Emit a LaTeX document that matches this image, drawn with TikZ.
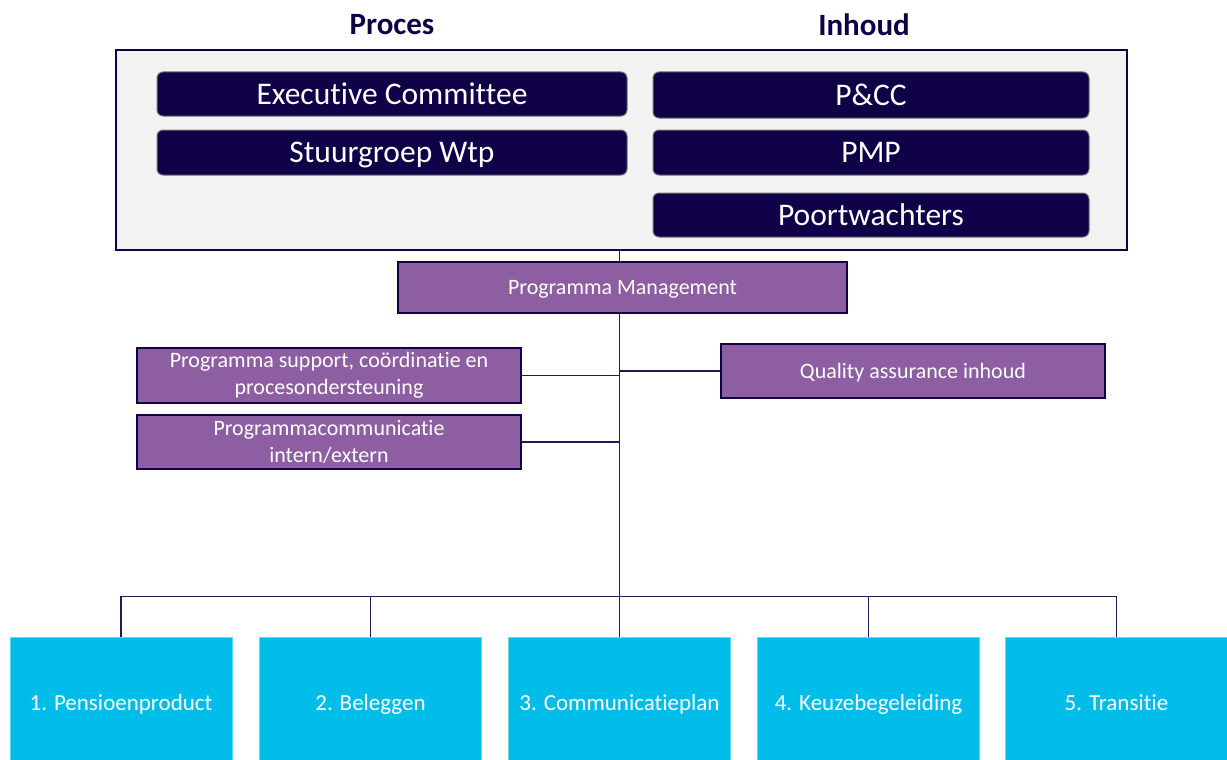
\documentclass[tikz,border=0pt]{standalone}
\usepackage{fontspec}
\setmainfont{Carlito}[Ligatures=NoCommon]
\usetikzlibrary{backgrounds}
\definecolor{navy}{HTML}{0F0048}
\definecolor{paars}{HTML}{8E5EA3}
\definecolor{cyaan}{HTML}{00BCE8}
\definecolor{grijs}{HTML}{F2F2F2}
\tikzset{
  titel/.style={font=\fontsize{31}{36}\selectfont\bfseries,text=navy},
  kader/.style={draw=navy,line width=2pt,fill=grijs,minimum width=1011pt,minimum height=200pt},
  orgaan/.style={draw=black!55,line width=1pt,fill=navy,rounded corners=6pt,text=white,
    font=\fontsize{31.5}{36}\selectfont,inner sep=0pt,text depth=0pt},
  team/.style={draw=navy,line width=2pt,fill=paars,text=white,align=center,
    font=\fontsize{22}{27}\selectfont,inner sep=0pt,minimum width=384pt,minimum height=54pt},
  stroom/.style={draw=cyaan!60!white,line width=0.8pt,fill=cyaan,text=white,
    font=\fontsize{23}{28}\selectfont,inner sep=0pt,minimum width=222pt,minimum height=132pt,
    text depth=0pt},
  lijn/.style={draw=navy!80!gray,line width=1.5pt}
}
\begin{document}
\begin{tikzpicture}[x=1pt,y=-1pt]
    \useasboundingbox (0,0) rectangle (1227,760);
    \node[titel] (proces) at (392,25) {Proces};
    \node[titel] (inhoud) at (864,25) {Inhoud};
    \node[kader] (kader) at (621.5,150) {};
    \node[orgaan,minimum width=470pt,minimum height=44pt] (exco) at (392,94) {Executive Committee};
    \node[orgaan,minimum width=470pt,minimum height=45pt] (stuur) at (392,152.5) {Stuurgroep Wtp};
    \node[orgaan,minimum width=436pt,minimum height=46pt] (pcc) at (871,95) {P\&CC};
    \node[orgaan,minimum width=436pt,minimum height=45pt] (pmp) at (871,152.5) {PMP};
    \node[orgaan,minimum width=436pt,minimum height=44pt] (poort) at (871,215) {Poortwachters};
    \node[team,minimum width=449pt,minimum height=51pt,text depth=0pt] (pm) at (622.5,287.5) {Programma Management};
    \node[team,minimum height=55pt] (support) at (329,375.5) {Programma support, coördinatie en\\procesondersteuning};
    \node[team] (comm) at (329,442) {Programmacommunicatie\\intern/extern};
    \node[team,text depth=0pt] (qa) at (913,371) {Quality assurance inhoud};
    \node[stroom] (s1) at (121,703) {1. Pensioenproduct};
    \node[stroom] (s2) at (370.5,703) {2. Beleggen};
    \node[stroom] (s3) at (619.5,703) {3. Communicatieplan};
    \node[stroom] (s4) at (868.5,703) {4. Keuzebegeleiding};
    \node[stroom] (s5) at (1116.5,703) {5. Transitie};
    \begin{scope}[on background layer]
        \draw[lijn] (kader.south -| s3.north) -- (s3.north);
        \draw[lijn] (support.east) -- (support.east -| s3.north);
        \draw[lijn] (comm.east) -- (comm.east -| s3.north);
        \draw[lijn] (qa.west) -- (qa.west -| s3.north);
        \draw[lijn] (s1.north) -- ++(0,-40) -| (s5.north);
        \draw[lijn] (s2.north) -- ++(0,-40);
        \draw[lijn] (s4.north) -- ++(0,-40);
    \end{scope}
\end{tikzpicture}
\end{document}
